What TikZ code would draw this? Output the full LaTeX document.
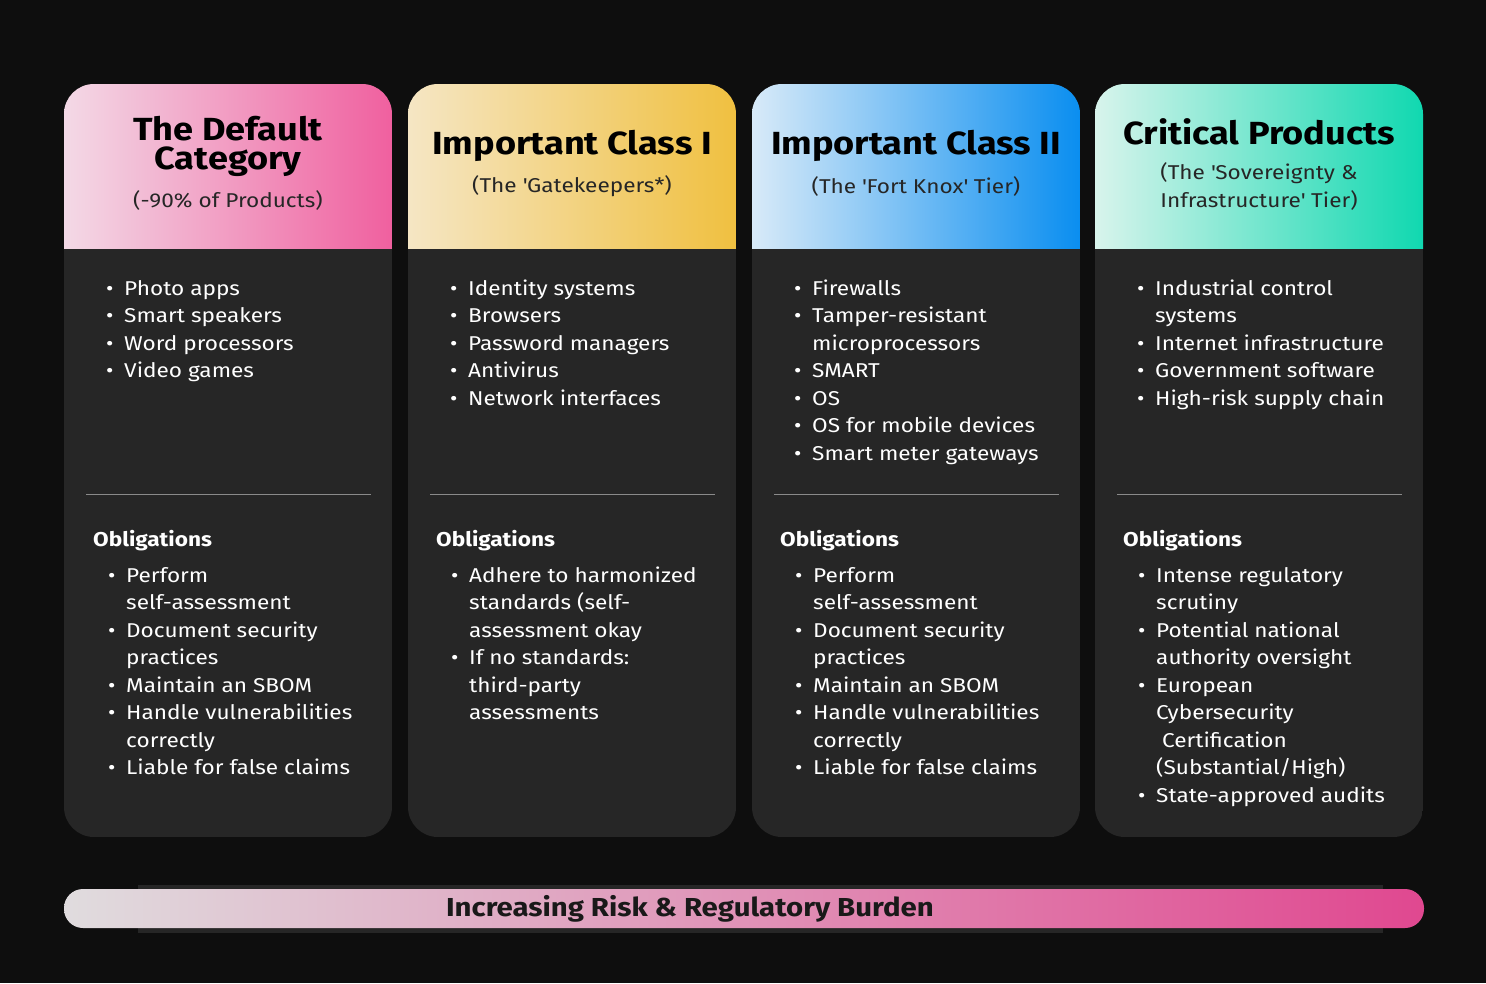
\documentclass[tikz,border=0pt]{standalone}
\usepackage{fontspec}
\setmainfont{Fira Sans}[FakeStretch=1.13]
\usetikzlibrary{positioning}
\definecolor{bgc}{HTML}{0E0E0E}
\definecolor{cardc}{HTML}{262626}
\definecolor{pinkA}{HTML}{F3D9E6}\definecolor{pinkB}{HTML}{F0609F}
\definecolor{goldA}{HTML}{F5E6C4}\definecolor{goldB}{HTML}{F0C040}
\definecolor{blueA}{HTML}{D8EAF8}\definecolor{blueB}{HTML}{0A8EF0}
\definecolor{tealA}{HTML}{D8F4EC}\definecolor{tealB}{HTML}{10D8B0}
\definecolor{barA}{HTML}{E0DCDE}\definecolor{barB}{HTML}{E04890}
\definecolor{linec}{HTML}{8A8A8A}
\newcommand\mycard[3]{%
  \begin{scope}
  \clip[rounded corners=30pt] (#1,84) rectangle ++(328,753);
  \fill[cardc] (#1,84) rectangle ++(328,753);
  \shade[left color=#2,right color=#3] (#1,84) rectangle ++(328,164);
  \end{scope}
  \draw[linec,line width=1pt] (#1+22,494) -- ++(285,0);}
\newcommand\bl{\textbullet}
\newcommand\sq{\XeTeXglyph\XeTeXcharglyph"0027\relax}
\tikzset{
  title/.style={font=\fontsize{32}{29}\selectfont\bfseries,text=black,align=center,inner sep=0},
  sub/.style={font=\fontsize{20}{28}\selectfont,text=black!85,align=center,inner sep=0},
  list/.style={font=\fontsize{20}{27.5}\selectfont,text=white,anchor=base west,inner sep=0},
  obl/.style={font=\fontsize{20}{24}\selectfont\bfseries,text=white,anchor=base west,inner sep=0},
}
\newenvironment{lst}{\begin{tabular}[t]{@{}p{18pt}@{}l@{}}}{\end{tabular}}
\begin{document}
\begin{tikzpicture}[x=1pt,y=-1pt]
\fill[bgc] (0,0) rectangle (1486,983);
\useasboundingbox (0,0) rectangle (1486,983);
\mycard{64}{pinkA}{pinkB}
\mycard{408}{goldA}{goldB}
\mycard{752}{blueA}{blueB}
\mycard{1095}{tealA}{tealB}
% headers
\node[title] (t1) at (228,146) {The Default\\Category};
\node[sub] (s1) at (228,200) {(-90\% of Products)};
\node[title] (t2) at (572,146) {Important Class I};
\node[sub] (s2) at (572,186) {(The \sq Gatekeepers*)};
\node[title] (t3) at (916,146) {Important Class II};
\node[sub] (s3) at (916,186) {(The \sq Fort Knox\sq\ Tier)};
\node[title] (t4) at (1259,132) {Critical Products};
\node[sub] (s4) at (1259,186) {(The \sq Sovereignty \&\\Infrastructure\sq\ Tier)};
% top lists
\node[list] (l1) at (106,295) {\begin{lst}\bl&Photo apps\\\bl&Smart speakers\\\bl&Word processors\\\bl&Video games\end{lst}};
\node[list] (l2) at (450,295) {\begin{lst}\bl&Identity systems\\\bl&Browsers\\\bl&Password managers\\\bl&Antivirus\\\bl&Network interfaces\end{lst}};
\node[list] (l3) at (794,295) {\begin{lst}\bl&Firewalls\\\bl&Tamper-resistant\\&microprocessors\\\bl&SMART\\\bl&OS\\\bl&OS for mobile devices\\\bl&Smart meter gateways\end{lst}};
\node[list] (l4) at (1137,295) {\begin{lst}\bl&Industrial control\\&systems\\\bl&Internet infrastructure\\\bl&Government software\\\bl&High-risk supply chain\end{lst}};
% obligations
\node[obl] (o1) at (93,546) {Obligations};
\node[obl] (o2) at (436,546) {Obligations};
\node[obl] (o3) at (780,546) {Obligations};
\node[obl] (o4) at (1123,546) {Obligations};
\node[list] (b1) at (108,582) {\begin{lst}\bl&Perform\\&self-assessment\\\bl&Document security\\&practices\\\bl&Maintain an SBOM\\\bl&Handle vulnerabilities\\&correctly\\\bl&Liable for false claims\end{lst}};
\node[list] (b2) at (451,582) {\begin{lst}\bl&Adhere to harmonized\\&standards (self-\\&assessment okay\\\bl&If no standards:\\&third-party\\&assessments\end{lst}};
\node[list] (b3) at (795,582) {\begin{lst}\bl&Perform\\&self-assessment\\\bl&Document security\\&practices\\\bl&Maintain an SBOM\\\bl&Handle vulnerabilities\\&correctly\\\bl&Liable for false claims\end{lst}};
\node[list] (b4) at (1138,582) {\begin{lst}\bl&Intense regulatory\\&scrutiny\\\bl&Potential national\\&authority oversight\\\bl&European\\&Cybersecurity\\&\ Certification\\&(Substantial/High)\\\bl&State-approved audits\end{lst}};
% bar
\fill[cardc] (138,885) rectangle (1383,933);
\shade[left color=barA,right color=barB,rounded corners=19pt] (64,889) rectangle (1424,928);
\node[font=\fontsize{26}{30}\selectfont\bfseries,text=black!90,inner sep=0] (bar) at (690,909) {Increasing Risk \& Regulatory Burden};
\end{tikzpicture}
\end{document}
